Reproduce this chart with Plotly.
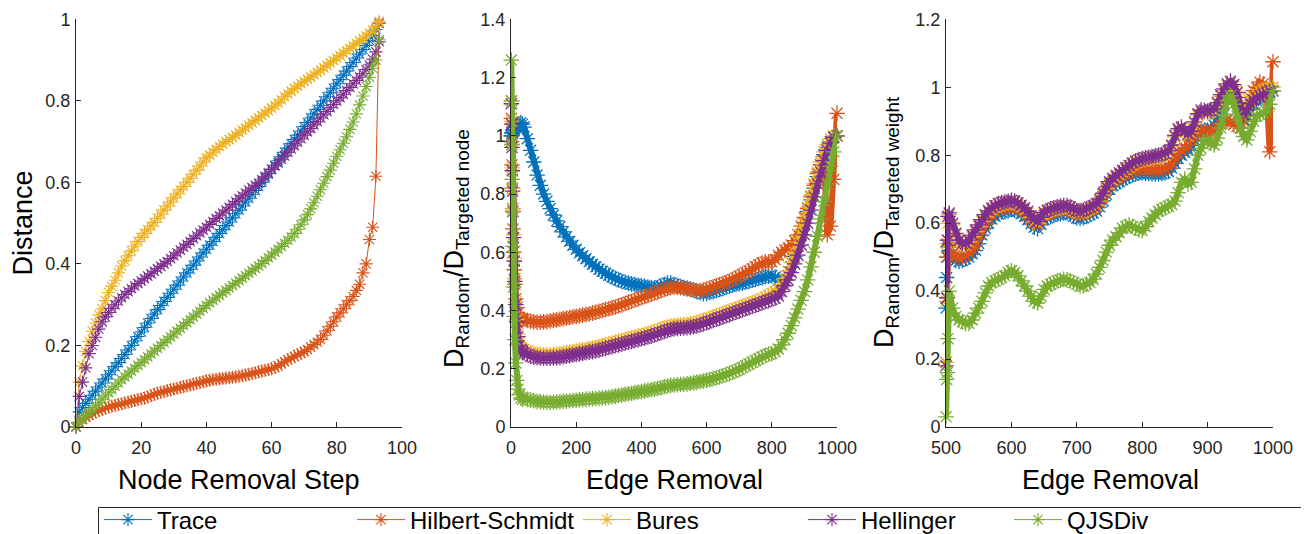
import plotly.graph_objects as go

# ---------------- data ----------------
names = ["Trace", "Hilbert-Schmidt", "Bures", "Hellinger", "QJSDiv"]
colors = ["#0072BD", "#D95319", "#EDB120", "#7E2F8E", "#77AC30"]

# Panel 1: distance vs node removal step
p1_x = list(range(94))
p1_trace = [0.000,0.037,0.048,0.058,0.068,0.078,0.088,0.098,0.108,0.118,
            0.128,0.138,0.148,0.158,0.168,0.178,0.189,0.200,0.211,0.222,
            0.233,0.244,0.255,0.266,0.277,0.288,0.298,0.308,0.318,0.328,
            0.338,0.348,0.358,0.368,0.378,0.387,0.397,0.407,0.417,0.427,
            0.436,0.446,0.455,0.465,0.475,0.484,0.494,0.503,0.513,0.523,
            0.532,0.542,0.552,0.561,0.571,0.580,0.590,0.600,0.611,0.621,
            0.632,0.642,0.653,0.663,0.674,0.684,0.695,0.705,0.716,0.726,
            0.737,0.747,0.758,0.768,0.779,0.789,0.800,0.810,0.821,0.831,
            0.842,0.852,0.863,0.873,0.884,0.894,0.905,0.915,0.926,0.936,
            0.948,0.960,0.975,0.990]
p1_hs = [0.000,0.010,0.018,0.024,0.029,0.033,0.037,0.040,0.043,0.046,
         0.049,0.051,0.053,0.055,0.057,0.059,0.061,0.063,0.065,0.067,
         0.069,0.071,0.074,0.077,0.080,0.083,0.085,0.087,0.089,0.091,
         0.093,0.095,0.097,0.099,0.101,0.103,0.105,0.107,0.109,0.111,
         0.113,0.115,0.116,0.117,0.118,0.119,0.120,0.121,0.122,0.123,
         0.124,0.126,0.127,0.129,0.131,0.133,0.135,0.137,0.139,0.141,
         0.143,0.146,0.150,0.155,0.160,0.165,0.169,0.173,0.177,0.181,
         0.185,0.190,0.196,0.202,0.208,0.215,0.225,0.236,0.247,0.258,
         0.270,0.280,0.290,0.300,0.310,0.320,0.335,0.350,0.378,0.400,
         0.460,0.490,0.615,0.990]
p1_bures = [0.000,0.110,0.150,0.185,0.210,0.235,0.255,0.275,0.290,0.310,
            0.330,0.345,0.360,0.378,0.395,0.408,0.420,0.432,0.444,0.455,
            0.465,0.475,0.484,0.493,0.502,0.512,0.522,0.532,0.542,0.552,
            0.562,0.572,0.582,0.590,0.600,0.610,0.620,0.630,0.640,0.650,
            0.660,0.667,0.674,0.681,0.688,0.694,0.700,0.705,0.710,0.716,
            0.722,0.728,0.734,0.740,0.746,0.752,0.758,0.764,0.770,0.776,
            0.782,0.788,0.795,0.802,0.810,0.817,0.824,0.830,0.836,0.842,
            0.848,0.853,0.858,0.864,0.870,0.875,0.881,0.887,0.893,0.899,
            0.905,0.911,0.917,0.923,0.929,0.935,0.941,0.947,0.953,0.959,
            0.966,0.973,0.981,0.995]
p1_hell = [0.000,0.075,0.110,0.145,0.180,0.200,0.220,0.240,0.258,0.270,
           0.281,0.291,0.300,0.309,0.317,0.325,0.332,0.339,0.346,0.352,
           0.358,0.364,0.370,0.376,0.382,0.388,0.394,0.400,0.406,0.413,
           0.420,0.427,0.434,0.441,0.448,0.455,0.462,0.469,0.476,0.483,
           0.490,0.497,0.504,0.511,0.518,0.525,0.532,0.539,0.546,0.553,
           0.560,0.567,0.574,0.581,0.587,0.593,0.598,0.606,0.615,0.623,
           0.632,0.640,0.648,0.657,0.665,0.674,0.682,0.690,0.699,0.707,
           0.716,0.724,0.732,0.741,0.749,0.758,0.766,0.774,0.783,0.791,
           0.800,0.808,0.816,0.825,0.833,0.842,0.850,0.858,0.867,0.877,
           0.888,0.902,0.920,0.945]
p1_qjs = [0.000,0.012,0.020,0.028,0.036,0.044,0.052,0.060,0.068,0.076,
          0.084,0.092,0.100,0.108,0.116,0.123,0.130,0.137,0.144,0.151,
          0.158,0.165,0.172,0.179,0.186,0.193,0.200,0.207,0.214,0.221,
          0.228,0.235,0.242,0.249,0.256,0.263,0.270,0.277,0.284,0.291,
          0.298,0.305,0.311,0.317,0.323,0.329,0.335,0.341,0.347,0.353,
          0.359,0.365,0.371,0.377,0.383,0.389,0.395,0.401,0.408,0.415,
          0.422,0.429,0.436,0.443,0.450,0.458,0.466,0.475,0.485,0.496,
          0.508,0.521,0.535,0.550,0.566,0.582,0.598,0.614,0.630,0.647,
          0.664,0.680,0.696,0.712,0.730,0.748,0.768,0.790,0.812,0.835,
          0.858,0.880,0.900,0.950]

# Panel 2: ratio vs edge removal (targeted node)
p2_x = [1, 2, 3, 4, 5, 6, 8, 10, 12, 15, 18, 21, 25, 30, 35] + list(range(40, 1001, 10))
p2_trace = [1.00,1.00,1.01,1.01,1.01,1.02,1.02,1.02,1.03,1.03,1.03,1.04,1.04,1.045,1.04,
    1.030,0.990,0.950,0.910,0.865,0.830,0.800,0.775,0.750,0.728,0.708,0.688,0.670,0.653,0.638,0.624,
    0.610,0.598,0.588,0.578,0.568,0.559,0.550,0.542,0.535,0.528,0.521,0.515,0.510,0.505,0.500,0.497,
    0.494,0.491,0.489,0.487,0.485,0.483,0.481,0.479,0.477,0.479,0.485,0.490,0.494,0.494,0.490,0.486,
    0.482,0.479,0.477,0.474,0.470,0.465,0.461,0.458,0.459,0.462,0.465,0.468,0.472,0.476,0.480,0.484,
    0.487,0.490,0.492,0.494,0.497,0.500,0.504,0.507,0.510,0.513,0.516,0.518,0.520,0.515,0.505,0.500,
    0.505,0.520,0.550,0.585,0.620,0.660,0.700,0.740,0.780,0.820,0.860,0.900,0.935,0.960,0.980,0.995,1.000]
p2_hs = [1.06,0.98,0.90,0.82,0.75,0.68,0.60,0.54,0.49,0.44,0.41,0.39,0.375,0.37,0.37,
    0.370,0.366,0.363,0.361,0.360,0.360,0.361,0.362,0.364,0.366,0.368,0.370,0.372,0.374,0.376,0.378,
    0.380,0.382,0.384,0.386,0.388,0.391,0.394,0.397,0.400,0.403,0.406,0.409,0.412,0.416,0.420,0.424,
    0.428,0.432,0.436,0.440,0.444,0.448,0.452,0.456,0.460,0.464,0.468,0.472,0.476,0.478,0.479,0.479,
    0.478,0.476,0.474,0.472,0.470,0.468,0.468,0.470,0.473,0.477,0.481,0.485,0.489,0.493,0.497,0.501,
    0.506,0.512,0.518,0.524,0.530,0.536,0.543,0.550,0.557,0.563,0.566,0.566,0.567,0.575,0.590,0.600,
    0.608,0.615,0.625,0.640,0.660,0.690,0.720,0.750,0.790,0.830,0.870,0.900,0.930,0.660,0.690,0.850,1.077]
p2_bures = [1.12,1.05,0.97,0.89,0.82,0.75,0.66,0.58,0.51,0.43,0.37,0.32,0.29,0.27,0.265,
    0.267,0.260,0.255,0.252,0.250,0.249,0.248,0.248,0.248,0.249,0.250,0.251,0.253,0.255,0.257,0.259,
    0.261,0.263,0.265,0.267,0.269,0.271,0.273,0.276,0.279,0.282,0.285,0.288,0.291,0.294,0.297,0.300,
    0.303,0.306,0.309,0.312,0.315,0.318,0.321,0.324,0.328,0.332,0.336,0.340,0.344,0.347,0.349,0.350,
    0.351,0.352,0.353,0.354,0.356,0.359,0.362,0.366,0.370,0.374,0.378,0.382,0.386,0.390,0.394,0.398,
    0.402,0.406,0.410,0.414,0.418,0.422,0.426,0.430,0.434,0.440,0.446,0.452,0.458,0.465,0.475,0.490,
    0.510,0.535,0.565,0.600,0.635,0.675,0.715,0.755,0.795,0.835,0.875,0.910,0.945,0.970,0.990,1.000,1.000]
p2_hell = [1.11,1.04,0.96,0.88,0.81,0.74,0.65,0.57,0.50,0.42,0.36,0.31,0.28,0.265,0.26,
    0.255,0.248,0.243,0.240,0.238,0.237,0.236,0.236,0.236,0.237,0.238,0.239,0.241,0.243,0.245,0.247,
    0.249,0.251,0.253,0.255,0.257,0.259,0.261,0.264,0.267,0.270,0.273,0.276,0.279,0.282,0.285,0.288,
    0.291,0.294,0.297,0.300,0.303,0.306,0.309,0.312,0.316,0.320,0.324,0.328,0.332,0.335,0.337,0.338,
    0.339,0.340,0.341,0.342,0.344,0.347,0.350,0.354,0.358,0.362,0.366,0.370,0.374,0.378,0.382,0.386,
    0.390,0.394,0.398,0.402,0.406,0.410,0.414,0.418,0.422,0.426,0.430,0.434,0.438,0.442,0.450,0.465,
    0.485,0.505,0.530,0.560,0.590,0.625,0.660,0.700,0.745,0.790,0.835,0.875,0.915,0.950,0.975,0.995,1.000]
p2_qjs = [1.26,1.12,0.97,0.85,0.74,0.62,0.48,0.38,0.30,0.22,0.16,0.13,0.11,0.10,0.095,
    0.100,0.095,0.092,0.090,0.088,0.087,0.086,0.085,0.084,0.085,0.086,0.087,0.088,0.089,0.090,0.091,
    0.092,0.093,0.094,0.095,0.096,0.097,0.098,0.099,0.100,0.101,0.102,0.104,0.106,0.108,0.110,0.112,
    0.114,0.116,0.118,0.120,0.122,0.124,0.126,0.128,0.130,0.132,0.135,0.138,0.141,0.143,0.144,0.145,
    0.146,0.147,0.148,0.150,0.152,0.154,0.156,0.158,0.160,0.163,0.166,0.169,0.172,0.176,0.180,0.184,
    0.188,0.193,0.198,0.204,0.210,0.216,0.222,0.228,0.234,0.240,0.246,0.250,0.252,0.258,0.268,0.282,
    0.300,0.322,0.348,0.375,0.405,0.435,0.465,0.505,0.550,0.600,0.655,0.715,0.775,0.835,0.895,0.945,1.000]

# Panel 3: ratio vs edge removal (targeted weight)
p3_x = [500, 501, 502, 503] + list(range(505, 1001, 5))
p3_trace = [0.35,0.44,0.50,0.53,
    0.520,0.500,0.490,0.487,0.490,0.495,0.500,0.510,0.520,0.540,
    0.565,0.585,0.600,0.612,0.620,0.628,0.632,0.634,0.636,0.640,
    0.638,0.635,0.628,0.620,0.610,0.598,0.588,0.584,0.597,0.610,
    0.616,0.620,0.623,0.626,0.628,0.630,0.630,0.626,0.620,0.615,
    0.614,0.616,0.620,0.625,0.630,0.636,0.648,0.666,0.685,0.700,
    0.710,0.716,0.722,0.728,0.733,0.738,0.742,0.745,0.747,0.748,
    0.747,0.746,0.745,0.745,0.745,0.746,0.748,0.752,0.762,0.776,
    0.790,0.800,0.808,0.816,0.828,0.845,0.860,0.870,0.873,0.874,
    0.878,0.888,0.908,0.930,0.950,0.965,0.975,0.970,0.955,0.925,
    0.905,0.915,0.935,0.950,0.960,0.970,0.975,0.980,0.985,0.990]
p3_hs = [0.19,0.50,0.38,0.55,
    0.530,0.510,0.500,0.498,0.500,0.505,0.512,0.522,0.533,0.553,
    0.577,0.597,0.612,0.624,0.632,0.640,0.644,0.646,0.648,0.652,
    0.650,0.647,0.640,0.632,0.622,0.610,0.600,0.596,0.609,0.622,
    0.628,0.632,0.635,0.638,0.640,0.642,0.642,0.638,0.632,0.627,
    0.626,0.628,0.632,0.637,0.642,0.648,0.660,0.678,0.697,0.712,
    0.722,0.728,0.734,0.740,0.745,0.750,0.754,0.757,0.759,0.760,
    0.759,0.758,0.757,0.757,0.757,0.758,0.760,0.765,0.775,0.790,
    0.805,0.815,0.820,0.830,0.845,0.860,0.868,0.872,0.870,0.868,
    0.870,0.874,0.880,0.890,0.900,0.905,0.900,0.890,0.885,0.880,
    0.900,0.940,0.970,0.990,1.000,1.015,1.010,0.990,0.810,1.075]
p3_hell = [0.18,0.38,0.55,0.62,
    0.630,0.600,0.570,0.550,0.540,0.540,0.550,0.565,0.580,0.595,
    0.610,0.625,0.637,0.645,0.652,0.658,0.661,0.662,0.664,0.667,
    0.665,0.660,0.653,0.645,0.635,0.622,0.610,0.605,0.618,0.632,
    0.638,0.642,0.645,0.648,0.650,0.652,0.652,0.648,0.642,0.637,
    0.636,0.638,0.642,0.647,0.652,0.658,0.670,0.688,0.707,0.722,
    0.732,0.740,0.748,0.756,0.763,0.770,0.777,0.783,0.787,0.790,
    0.792,0.794,0.796,0.798,0.800,0.803,0.806,0.813,0.830,0.858,
    0.878,0.883,0.874,0.862,0.870,0.898,0.922,0.933,0.932,0.930,
    0.932,0.936,0.955,0.978,0.995,1.010,1.018,1.008,0.985,0.940,
    0.915,0.932,0.952,0.962,0.968,0.974,0.979,0.984,0.988,0.990]
p3_bures = [0.19,0.37,0.54,0.60,
    0.625,0.595,0.565,0.545,0.535,0.535,0.545,0.560,0.575,0.590,
    0.605,0.620,0.632,0.640,0.647,0.653,0.656,0.657,0.659,0.662,
    0.660,0.655,0.648,0.640,0.630,0.617,0.605,0.600,0.613,0.627,
    0.633,0.637,0.640,0.643,0.645,0.647,0.647,0.643,0.637,0.632,
    0.631,0.633,0.637,0.642,0.647,0.653,0.665,0.683,0.702,0.717,
    0.727,0.735,0.743,0.751,0.758,0.765,0.772,0.778,0.782,0.785,
    0.787,0.789,0.791,0.793,0.795,0.798,0.801,0.808,0.825,0.853,
    0.873,0.878,0.869,0.857,0.865,0.893,0.917,0.928,0.927,0.925,
    0.927,0.931,0.950,0.973,0.990,1.005,1.013,1.003,0.980,0.935,
    0.912,0.940,0.960,0.972,0.980,0.987,0.992,0.996,0.998,1.000]
p3_qjs = [0.03,0.14,0.16,0.26,
    0.400,0.350,0.325,0.315,0.310,0.305,0.305,0.315,0.335,0.350,
    0.370,0.395,0.415,0.425,0.430,0.435,0.440,0.445,0.455,0.460,
    0.455,0.445,0.430,0.415,0.400,0.385,0.370,0.365,0.385,0.405,
    0.415,0.420,0.425,0.430,0.432,0.435,0.433,0.430,0.425,0.420,
    0.415,0.415,0.420,0.425,0.435,0.450,0.470,0.490,0.515,0.535,
    0.550,0.560,0.572,0.585,0.590,0.595,0.590,0.585,0.580,0.578,
    0.590,0.605,0.615,0.625,0.635,0.640,0.645,0.650,0.655,0.665,
    0.690,0.720,0.730,0.715,0.720,0.760,0.800,0.820,0.840,0.845,
    0.835,0.830,0.850,0.880,0.920,0.960,0.975,0.950,0.915,0.880,
    0.855,0.845,0.870,0.900,0.915,0.920,0.925,0.930,0.950,0.990]

# ---------------- layout helpers ----------------
# the page body has an 8px margin, so the figure starts 8px right/down
OFF = 8
W, H = 1309 - OFF, 534 - OFF
FONT = "Liberation Sans, Arial, Helvetica, sans-serif"
AX = "#262626"

def fx(p):
    return (p - OFF) / W

def fy(p):
    return 1 - (p - OFF) / H

fig = go.Figure()

# (x, series, xaxis, yaxis, marker size, marker stroke, line width)
panels = [
    (p1_x, [p1_trace, p1_hs, p1_bures, p1_hell, p1_qjs], "x", "y", 11, 1.1, 1),
    (p2_x, [p2_trace, p2_hs, p2_bures, p2_hell, p2_qjs], "x2", "y2", 13, 1.3, 6),
    (p3_x, [p3_trace, p3_hs, p3_bures, p3_hell, p3_qjs], "x3", "y3", 13, 1.3, 6),
]
legend_ids = ["legend", "legend2", "legend3", "legend4", "legend5"]

for pi, (xs, series, xa, ya, msize, mw, lw) in enumerate(panels):
    for si, ys in enumerate(series):
        fig.add_trace(go.Scatter(
            x=xs, y=ys, xaxis=xa, yaxis=ya,
            mode="lines+markers", name=names[si],
            line=dict(color=colors[si], width=lw),
            marker=dict(symbol="asterisk-open", size=msize, color=colors[si],
                        line=dict(color=colors[si], width=mw)),
            cliponaxis=False,
            showlegend=(pi == 0), legend=legend_ids[si],
        ))

top_px, bot_px = 19.3, 427
ydom = [fy(bot_px), fy(top_px)]

def xaxis(dom, rng, dtick):
    return dict(domain=dom, range=rng, dtick=dtick, tick0=rng[0], showline=True,
                linecolor=AX, linewidth=1, ticks="inside", ticklen=5, tickcolor=AX,
                showgrid=False, zeroline=False, ticklabelstandoff=4,
                tickfont=dict(family=FONT, size=18, color=AX))

def yaxis(anchor, rng, dtick):
    return dict(domain=ydom, range=rng, dtick=dtick, anchor=anchor, showline=True,
                linecolor=AX, linewidth=1, ticks="inside", ticklen=5, tickcolor=AX,
                showgrid=False, zeroline=False, ticklabelstandoff=1,
                tickfont=dict(family=FONT, size=18, color=AX))

fig.update_layout(
    width=W, height=H,
    margin=dict(l=0, r=0, t=0, b=0, autoexpand=False),
    paper_bgcolor="white", plot_bgcolor="white",
    font=dict(family=FONT, color=AX),
    xaxis=dict(xaxis([fx(76), fx(402)], [0, 100], 20), anchor="y"),
    yaxis=yaxis("x", [0, 1], 0.2),
    xaxis2=dict(xaxis([fx(511), fx(837)], [0, 1000], 200), anchor="y2"),
    yaxis2=yaxis("x2", [0, 1.4], 0.2),
    xaxis3=dict(xaxis([fx(946), fx(1273)], [500, 1000], 100), anchor="y3"),
    yaxis3=yaxis("x3", [0, 1.2], 0.2),
)

# legends: one per entry to match the reference's column spacing
leg_start_px = [99, 352, 578, 803, 1009]
for i, lid in enumerate(legend_ids):
    fig.update_layout({lid: dict(
        x=fx(leg_start_px[i]), y=fy(520), xanchor="left", yanchor="middle",
        orientation="h", bgcolor="rgba(0,0,0,0)", borderwidth=0,
        itemwidth=48, font=dict(family=FONT, size=24, color="#000000"),
        itemclick=False)})

fig.add_shape(type="rect", xref="paper", yref="paper",
              x0=fx(98.5), x1=fx(1307.5), y0=fy(545), y1=fy(507.5),
              line=dict(color=AX, width=1), fillcolor="rgba(0,0,0,0)")

TF = dict(family=FONT, size=27, color="#000000")
ann = [
    dict(text="Distance", x=fx(22.5), y=fy(223), textangle=-90),
    dict(text="Node Removal Step", x=fx(239), y=fy(480), textangle=0),
    dict(text="Edge Removal", x=fx(674), y=fy(480), textangle=0),
    dict(text="Edge Removal", x=fx(1110), y=fy(480), textangle=0),
    dict(text="D<sub>Random</sub>/D<sub>Targeted node</sub>", x=fx(456), y=fy(249), textangle=-90),
    dict(text="D<sub>Random</sub>/D<sub>Targeted weight</sub>", x=fx(886), y=fy(222), textangle=-90),
]
for a in ann:
    fig.add_annotation(xref="paper", yref="paper", xanchor="center", yanchor="middle",
                       showarrow=False, font=TF, **a)

fig.write_html("out.html")
